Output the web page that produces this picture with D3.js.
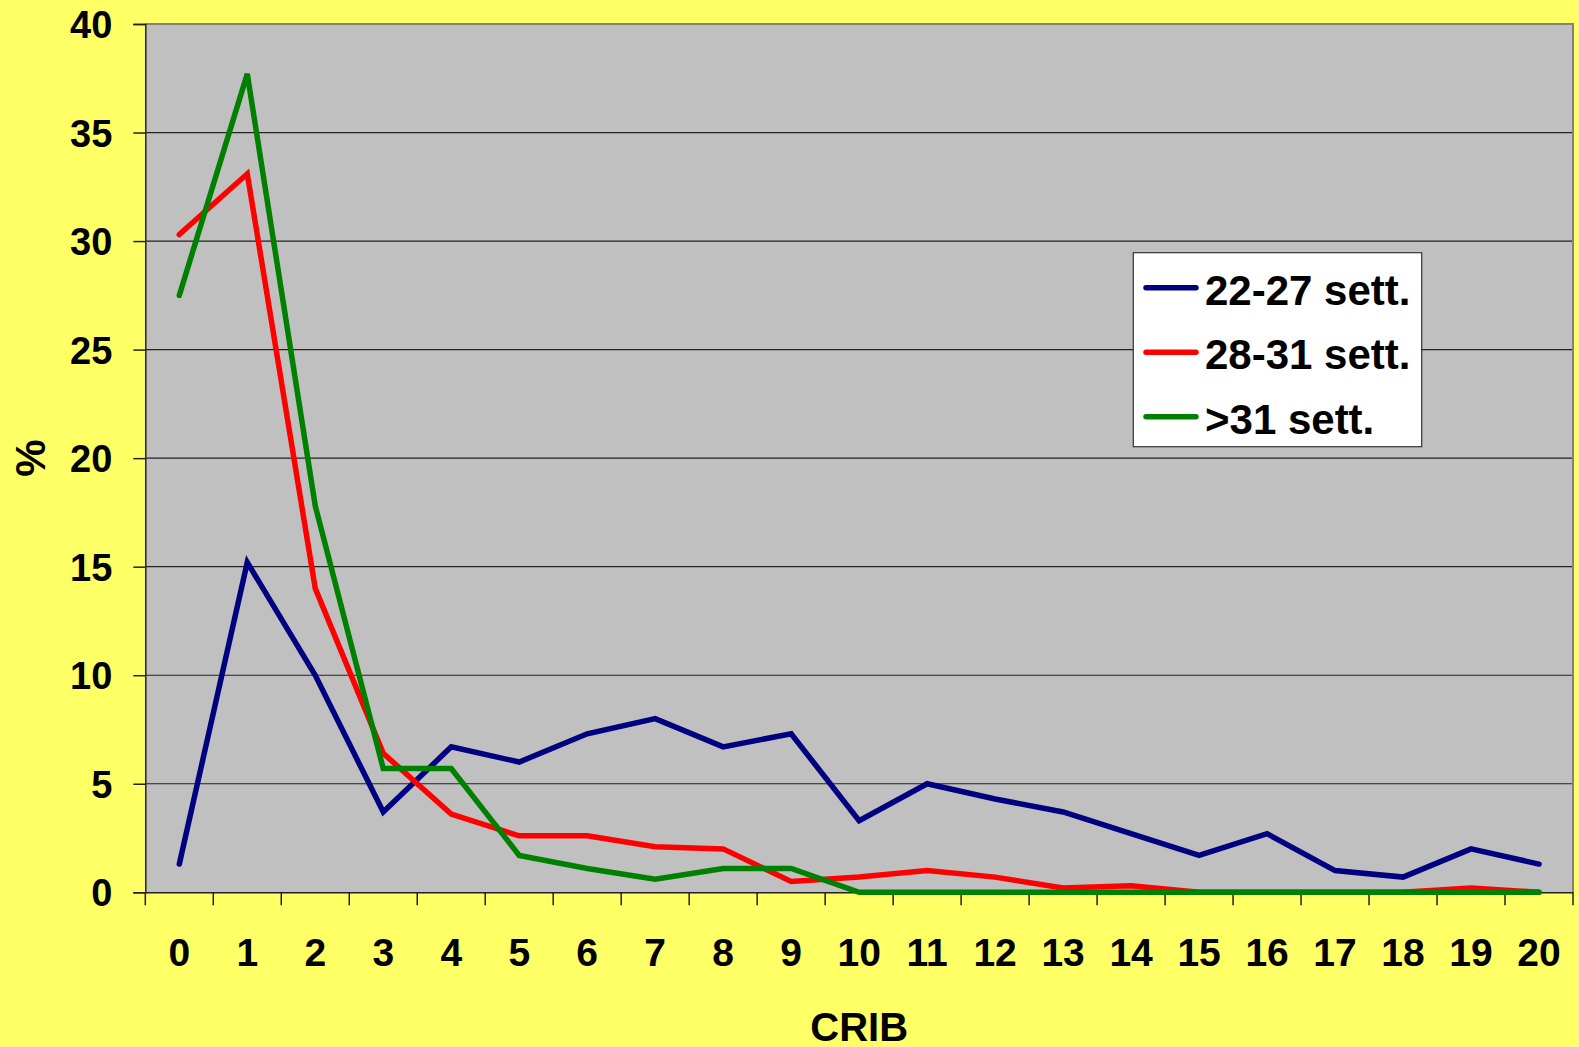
<!DOCTYPE html>
<html>
<head>
<meta charset="utf-8">
<script src="https://cdn.jsdelivr.net/npm/d3@7"></script>
<style>
  html, body { margin: 0; padding: 0; background: #FFFF66; }
  svg { display: block; }
  text { font-family: "Liberation Sans", Arial, sans-serif; font-weight: bold; fill: #000; }
</style>
</head>
<body>
<svg id="chart" width="1579" height="1047"></svg>
<script>
const categories = ["0","1","2","3","4","5","6","7","8","9","10","11","12","13","14","15","16","17","18","19","20"];
const seriesNames = ["22-27 sett.", "28-31 sett.", ">31 sett."];
const values2227 = [1.3, 15.2, 10.0, 3.7, 6.7, 6.0, 7.3, 8.0, 6.7, 7.3, 3.3, 5.0, 4.3, 3.7, 2.7, 1.7, 2.7, 1.0, 0.7, 2.0, 1.3];
const values2831 = [30.3, 33.1, 14.0, 6.4, 3.6, 2.6, 2.6, 2.1, 2.0, 0.5, 0.7, 1.0, 0.7, 0.2, 0.3, 0, 0, 0, 0, 0.2, 0];
const values31 = [27.5, 37.7, 17.8, 5.7, 5.7, 1.7, 1.1, 0.6, 1.1, 1.1, 0, 0, 0, 0, 0, 0, 0, 0, 0, 0, 0];
const yTicks = [0, 5, 10, 15, 20, 25, 30, 35, 40];
const colors = ["#000080", "#FF0000", "#008000"];

(function () {
const svg = d3.select("#chart");
const pL = 145.3, pR = 1573, pT = 24, pB = 892.3;

const x = d3.scaleBand().domain(categories).range([pL, pR]).paddingInner(0).paddingOuter(0);
const y = d3.scaleLinear().domain([0, 40]).range([pB, pT]);

// plot background
svg.append("rect").attr("x", pL).attr("y", pT)
  .attr("width", pR - pL).attr("height", pB - pT)
  .attr("fill", "#C0C0C0");

// gridlines
svg.append("g").selectAll("line").data(yTicks.filter(d => d > 0 && d < 40)).join("line")
  .attr("x1", pL).attr("x2", pR)
  .attr("y1", d => y(d)).attr("y2", d => y(d))
  .attr("stroke", "#222").attr("stroke-width", 1.2);

// top & right border
svg.append("path")
  .attr("d", `M${pL},${pT}H${pR}V${pB}`)
  .attr("fill", "none").attr("stroke", "#808080").attr("stroke-width", 2);

// Y axis
const yAxis = d3.axisLeft(y).tickValues(yTicks).tickSize(12).tickPadding(21).tickFormat(d3.format("d"));
const gy = svg.append("g").attr("transform", `translate(${pL},0)`).call(yAxis);
gy.select(".domain").attr("stroke", "#222").attr("stroke-width", 1.5);
gy.selectAll(".tick line").attr("stroke", "#222").attr("stroke-width", 1.5);
gy.selectAll(".tick text").style("font-size", "38px").style("font-family", "'Liberation Sans', Arial, sans-serif")
  .style("font-weight", "bold").attr("fill", "#000").attr("dy", "0.36em");

// X axis
const xAxis = d3.axisBottom(x).tickSize(0).tickPadding(46);
const gx = svg.append("g").attr("transform", `translate(0,${pB})`).call(xAxis);
gx.select(".domain").attr("stroke", "#222").attr("stroke-width", 1.5);
gx.selectAll(".tick text").style("font-size", "39px").style("font-family", "'Liberation Sans', Arial, sans-serif")
  .style("font-weight", "bold").attr("fill", "#000").attr("dy", "0.71em");
// x tick marks at category boundaries
const boundaries = categories.map(c => x(c)).concat([pR]);
svg.append("g").selectAll("line").data(boundaries).join("line")
  .attr("x1", d => d).attr("x2", d => d)
  .attr("y1", pB).attr("y2", pB + 13)
  .attr("stroke", "#222").attr("stroke-width", 1.5);

// lines
const allSeries = [values2227, values2831, values31];
const line = d3.line()
  .x((d, i) => x(categories[i]) + x.bandwidth() / 2)
  .y(d => y(d));
svg.append("g").selectAll("path").data(allSeries).join("path")
  .attr("d", d => line(d))
  .attr("fill", "none")
  .attr("stroke", (d, i) => colors[i])
  .attr("stroke-width", 5.5)
  .attr("stroke-linejoin", "miter")
  .attr("stroke-linecap", "round");

// axis titles
svg.append("text").attr("x", (pL + pR) / 2).attr("y", 1041)
  .attr("text-anchor", "middle").style("font-size", "40px").text("CRIB");
svg.append("text").attr("transform", `translate(45,${(pT + pB) / 2}) rotate(-90)`)
  .attr("text-anchor", "middle").style("font-size", "42px").text("%");

// legend
const lg = svg.append("g");
lg.append("rect").attr("x", 1133.3).attr("y", 252.7).attr("width", 288.4).attr("height", 194)
  .attr("fill", "#FFFFFF").attr("stroke", "#333").attr("stroke-width", 1.2);
const legendY = [287.7, 352.3, 416.7];
seriesNames.forEach((name, i) => {
  lg.append("line").attr("x1", 1146).attr("x2", 1196).attr("y1", legendY[i]).attr("y2", legendY[i])
    .attr("stroke", colors[i]).attr("stroke-width", 5.5).attr("stroke-linecap", "round");
  lg.append("text").attr("x", 1205).attr("y", legendY[i] + 17)
    .style("font-size", "42px").text(name);
});
})();
</script>
</body>
</html>
